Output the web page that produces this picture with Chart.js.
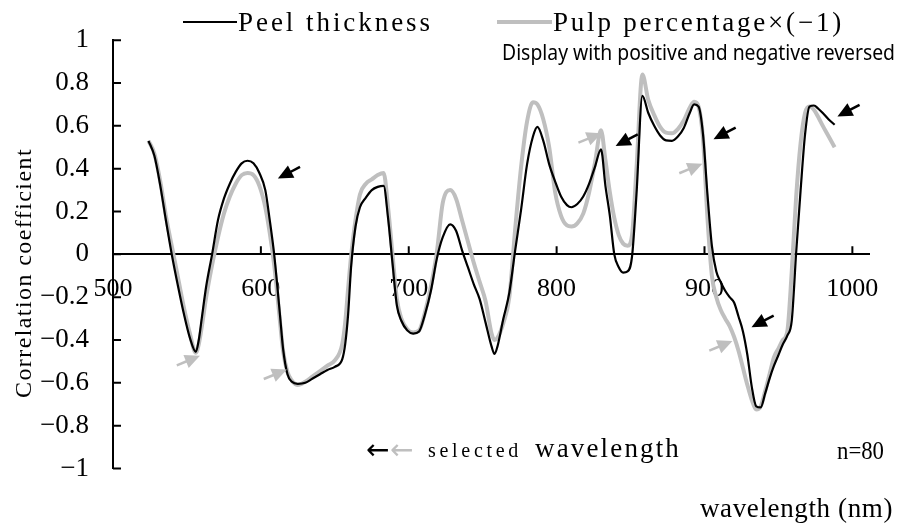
<!DOCTYPE html>
<html>
<head>
<meta charset="utf-8">
<script src="https://cdn.jsdelivr.net/npm/chart.js@4.4.0/dist/chart.umd.min.js"></script>
<style>
	body { margin: 0; background: #fff; }
	#wrapper { width: 898px; height: 525px; }
</style>
</head>
<body>
<div id="wrapper"><canvas id="chart" width="898" height="525"></canvas></div>
<script>
"use strict";

// lunghezze d'onda (nm)
const wavelength = [524,528,532,536,540,544,548,552,556,558,560,563,567,571,575,579,583,587,591,595,
	599,603,606,609,611,613,615,618,621,625,630,635,640,645,650,655,657,659,661,664,
	667,671,675,679,683,686,689,692,695,699,703,707,711,715,719,723,728,732,736,740,
	744,748,752,756,758,760,764,768,772,776,780,784,787,791,795,799,803,807,810,814,
	818,822,826,830,833,836,839,842,845,848,851,854,858,862,866,870,874,878,882,886,
	890,893,896,899,902,905,908,911,914,917,920,923,926,929,932,935,938,941,944,947,
	950,953,956,959,962,965,968,971,974,977,980,984,988];

const peelThickness = [0.53,0.46,0.32,0.15,-0.01,-0.15,-0.28,-0.39,-0.455,-0.40,-0.30,-0.15,0.00,0.16,0.26,0.33,0.385,0.425,0.437,0.425,
	0.38,0.30,0.16,0.00,-0.14,-0.29,-0.44,-0.56,-0.595,-0.605,-0.60,-0.58,-0.56,-0.54,-0.525,-0.49,-0.42,-0.28,-0.06,0.13,
	0.22,0.265,0.30,0.315,0.32,0.17,-0.04,-0.24,-0.31,-0.355,-0.37,-0.36,-0.28,-0.17,-0.02,0.08,0.14,0.11,0.02,-0.06,
	-0.14,-0.21,-0.32,-0.43,-0.465,-0.43,-0.30,-0.18,0.02,0.21,0.42,0.55,0.595,0.53,0.42,0.34,0.27,0.23,0.22,0.235,
	0.27,0.33,0.41,0.49,0.32,0.18,0.00,-0.06,-0.085,-0.08,-0.01,0.28,0.74,0.66,0.60,0.555,0.532,0.53,0.55,0.59,
	0.66,0.70,0.69,0.56,0.28,0.04,-0.08,-0.13,-0.17,-0.20,-0.225,-0.29,-0.36,-0.47,-0.62,-0.71,-0.715,-0.65,-0.58,-0.52,
	-0.47,-0.42,-0.38,-0.31,0.01,0.30,0.56,0.69,0.695,0.68,0.66,0.63,0.605];

const pulpReversed = [0.53,0.47,0.34,0.17,0.03,-0.11,-0.25,-0.37,-0.46,-0.42,-0.34,-0.20,-0.05,0.08,0.19,0.27,0.33,0.37,0.38,0.37,
	0.32,0.22,0.10,-0.05,-0.18,-0.32,-0.45,-0.55,-0.59,-0.61,-0.595,-0.57,-0.545,-0.52,-0.495,-0.42,-0.32,-0.16,-0.01,0.16,
	0.28,0.33,0.35,0.37,0.38,0.22,0.00,-0.21,-0.30,-0.35,-0.365,-0.355,-0.27,-0.15,0.01,0.24,0.30,0.26,0.16,0.06,
	-0.04,-0.13,-0.22,-0.37,-0.40,-0.39,-0.32,-0.20,0.12,0.41,0.62,0.71,0.70,0.63,0.50,0.29,0.18,0.135,0.13,0.145,
	0.19,0.29,0.43,0.58,0.44,0.29,0.17,0.09,0.05,0.04,0.09,0.40,0.84,0.72,0.65,0.595,0.568,0.565,0.585,0.625,
	0.685,0.713,0.69,0.54,0.17,-0.10,-0.20,-0.26,-0.30,-0.335,-0.385,-0.45,-0.53,-0.61,-0.68,-0.725,-0.71,-0.64,-0.56,-0.48,
	-0.44,-0.40,-0.36,-0.08,0.27,0.52,0.66,0.69,0.675,0.64,0.60,0.55,0.50];

const seriesNames = ["Peel thickness", "Pulp percentage×(−1)"];
const yTicks = [-1, -0.8, -0.6, -0.4, -0.2, 0, 0.2, 0.4, 0.6, 0.8, 1];
const xTicks = [500, 600, 700, 800, 900, 1000];

// frecce: punta in coordinate dati (nm, r)
const blackArrowAt = [[611.5, 0.354], [839.9, 0.506], [906.1, 0.538], [989.9, 0.644], [931.8, -0.34]];
const grayArrowAt = [[558.8, -0.474], [617.6, -0.538], [830.4, 0.566], [898.6, 0.423], [918.9, -0.405]];

const BLACK = "#000000";
const GRAY = "#bfbfbf";
const SERIF = "'Liberation Serif'";

// testo "a spaziatura fissa": allarga con letterSpacing fino alla larghezza voluta
function spacedText(ctx, text, x, y, width) {
	ctx.letterSpacing = "0px";
	const w = ctx.measureText(text).width;
	const gap = (width - w) / text.length;
	if (gap > 0) {
		ctx.letterSpacing = gap + "px";
		ctx.fillText(text, x, y);
	} else {
		ctx.fillText(text, x, y, width);
	}
	ctx.letterSpacing = "0px";
}

function drawArrow(ctx, tx, ty, dx, dy, color) {
	const len = Math.hypot(dx, dy);
	const ux = dx / len, uy = dy / len;
	const head = 15, half = 7, shaft = 10;
	const bx = tx - ux * head, by = ty - uy * head;
	ctx.fillStyle = color;
	ctx.strokeStyle = color;
	ctx.beginPath();
	ctx.moveTo(tx, ty);
	ctx.lineTo(bx - uy * half, by + ux * half);
	ctx.lineTo(bx + uy * half, by - ux * half);
	ctx.closePath();
	ctx.fill();
	ctx.lineWidth = 2.5;
	ctx.beginPath();
	ctx.moveTo(bx + ux * 2, by + uy * 2);
	ctx.lineTo(bx - ux * shaft, by - uy * shaft);
	ctx.stroke();
}

const annotations = {
	id: "annotations",
	afterDraw(chart) {
		const ctx = chart.ctx;
		const xs = chart.scales.x;
		const ys = chart.scales.y;
		const y0 = ys.getPixelForValue(0);
		ctx.save();

		// tacche interne
		ctx.strokeStyle = BLACK;
		ctx.lineWidth = 2;
		ctx.beginPath();
		for (const v of yTicks) {
			const py = ys.getPixelForValue(v);
			ctx.moveTo(xs.left, py);
			ctx.lineTo(xs.left + 8, py);
		}
		for (const v of xTicks) {
			if (v <= 500) continue;
			const px = xs.getPixelForValue(v);
			ctx.moveTo(px, y0);
			ctx.lineTo(px, y0 - 8);
		}
		ctx.stroke();

		// legenda
		ctx.lineWidth = 2;
		ctx.strokeStyle = BLACK;
		ctx.beginPath(); ctx.moveTo(183, 22); ctx.lineTo(237, 22); ctx.stroke();
		ctx.lineWidth = 4;
		ctx.strokeStyle = GRAY;
		ctx.beginPath(); ctx.moveTo(497, 22); ctx.lineTo(552, 22); ctx.stroke();
		ctx.fillStyle = BLACK;
		ctx.textBaseline = "alphabetic";
		ctx.textAlign = "left";
		ctx.font = "27px " + SERIF;
		spacedText(ctx, seriesNames[0], 238, 31, 195);
		spacedText(ctx, seriesNames[1], 553, 31, 291);

		ctx.font = "21px 'Noto Sans'";
		ctx.fillText("Display with positive and negative reversed", 502, 60, 393);

		// titolo asse y
		ctx.save();
		ctx.translate(31, 398);
		ctx.rotate(-Math.PI / 2);
		ctx.font = "24px " + SERIF;
		spacedText(ctx, "Correlation coefficient", 0, 0, 250);
		ctx.restore();

		ctx.font = "27px " + SERIF;
		spacedText(ctx, "wavelength (nm)", 700, 517, 193);

		ctx.font = "25px " + SERIF;
		ctx.fillText("n=80", 837, 459, 47);

		// didascalia frecce
		ctx.font = "28px 'DejaVu Sans'";
		ctx.fillStyle = BLACK;
		ctx.fillText("←", 366, 459, 24);
		ctx.fillStyle = GRAY;
		ctx.fillText("←", 390, 459, 24);
		ctx.fillStyle = BLACK;
		ctx.font = "20px " + SERIF;
		spacedText(ctx, "selected", 428, 457, 94);
		ctx.font = "27px " + SERIF;
		spacedText(ctx, "wavelength", 535, 457, 146);

		for (const [w, r] of blackArrowAt) {
			drawArrow(ctx, xs.getPixelForValue(w), ys.getPixelForValue(r), -21, 11, BLACK);
		}
		for (const [w, r] of grayArrowAt) {
			drawArrow(ctx, xs.getPixelForValue(w), ys.getPixelForValue(r), 22, -9, GRAY);
		}
		ctx.restore();
	}
};

const canvas = document.getElementById("chart");

const chartOptions = {
	type: "line",
	data: {
		datasets: [
			{
				label: seriesNames[0],
				data: wavelength.map((w, i) => ({ x: w, y: peelThickness[i] })),
				borderColor: BLACK,
				borderWidth: 2.2,
				pointRadius: 0,
				cubicInterpolationMode: "monotone",
				fill: false
			},
			{
				label: seriesNames[1],
				data: wavelength.map((w, i) => ({ x: w, y: pulpReversed[i] })),
				borderColor: GRAY,
				borderWidth: 4,
				pointRadius: 0,
				cubicInterpolationMode: "monotone",
				fill: false
			}
		]
	},
	options: {
		responsive: false,
		animation: false,
		layout: { padding: { left: 0, right: 28, top: 33.5, bottom: 56.5 } },
		plugins: {
			legend: { display: false },
			tooltip: { enabled: false }
		},
		scales: {
			x: {
				type: "linear",
				min: 500,
				max: 1011.5,
				position: { y: 0 },
				border: { color: BLACK, width: 2 },
				grid: { drawOnChartArea: false, drawTicks: false },
				afterBuildTicks(scale) {
					scale.ticks = xTicks.map(v => ({ value: v }));
				},
				ticks: {
					padding: 19,
					color: BLACK,
					maxRotation: 0,
					autoSkip: false,
					font: { family: SERIF, size: 26 },
					callback: v => String(v)
				}
			},
			y: {
				min: -1,
				max: 1,
				border: { color: BLACK, width: 2 },
				grid: { drawOnChartArea: false, drawTicks: false },
				afterBuildTicks(scale) {
					scale.ticks = yTicks.map(v => ({ value: v }));
				},
				afterFit(scale) {
					scale.width = 113;
				},
				ticks: {
					padding: 24,
					color: BLACK,
					autoSkip: false,
					font: { family: SERIF, size: 27 },
					callback: v => String(Math.round(v * 10) / 10).replace("-", "−")
				}
			}
		}
	},
	plugins: [annotations]
};

const chart = new Chart(canvas, chartOptions);
</script>
</body>
</html>
